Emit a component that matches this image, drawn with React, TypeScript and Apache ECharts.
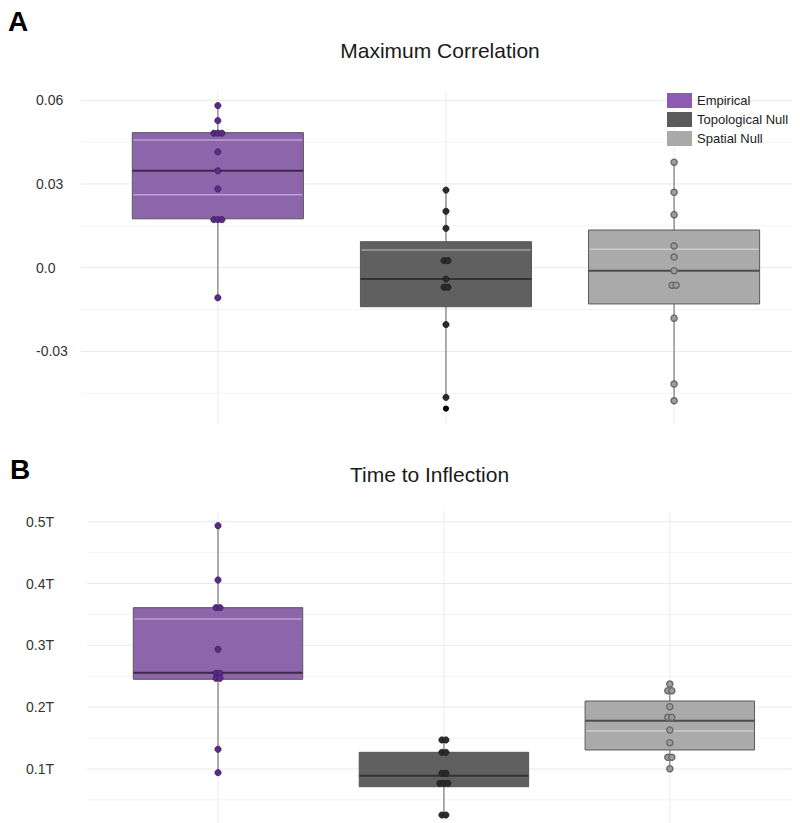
import React, { useEffect, useRef } from 'react';
import * as echarts from 'echarts';

const FONT = 'Liberation Sans, Arial, Helvetica, sans-serif';

const groups = ['Empirical', 'Topological Null', 'Spatial Null'];
const legendColors = ['#8d5cb2', '#5a5a5a', '#a9a9a9'];
const boxFills = ['#8960a7', '#5b5b5b', '#a7a7a7'];
const medianColors = ['#3b2a4c', '#333333', '#4d4d4d'];
const dotFills = ['#5a2a84', '#2b2b2b', '#9c9c9c'];
const dotStrokes = ['#3e1c5e', '#1a1a1a', '#666666'];

// ---- Panel A: Maximum Correlation ----
const corrTicks = [-0.03, 0, 0.03, 0.06];
const corrMinorTicks = [-0.045, -0.015, 0.015, 0.045];
// [low whisker, Q1, median, Q3, high whisker]
const corrBoxEmpirical = [-0.0108, 0.0175, 0.0347, 0.0484, 0.0581];
const corrBoxTopological = [-0.0465, -0.014, -0.0041, 0.0093, 0.0278];
const corrBoxSpatial = [-0.0477, -0.013, -0.0011, 0.0135, 0.0378];
const corrPointsEmpirical = [0.0581, 0.0527, 0.0482, 0.0482, 0.0482, 0.0415, 0.0347, 0.0282, 0.0172, 0.0172, 0.0172, -0.0108];
const corrPointsTopological = [0.0278, 0.0202, 0.0141, 0.0025, 0.0025, -0.0041, -0.007, -0.007, -0.0204, -0.0465];
const corrPointsSpatial = [0.0378, 0.027, 0.019, 0.0078, 0.0038, -0.0011, -0.0063, -0.0063, -0.0181, -0.0417, -0.0477];
const corrOutliersTopological = [-0.0505];
const corrLightEmpirical = [0.0458, 0.0261];
const corrLightTopological = [0.0063];
const corrLightSpatial = [0.0066];

// ---- Panel B: Time to Inflection ----
const timeTicks = [0.1, 0.2, 0.3, 0.4, 0.5];
const timeMinorTicks = [0.05, 0.15, 0.25, 0.35, 0.45];
const timeBoxEmpirical = [0.0941, 0.2451, 0.2558, 0.361, 0.4935];
const timeBoxTopological = [0.0256, 0.0714, 0.0892, 0.127, 0.147];
const timeBoxSpatial = [0.1005, 0.1308, 0.1782, 0.21, 0.2375];
const timePointsEmpirical = [0.4935, 0.4057, 0.361, 0.361, 0.2936, 0.2548, 0.2548, 0.2467, 0.2467, 0.1319, 0.0941];
const timePointsTopological = [0.147, 0.147, 0.127, 0.127, 0.0931, 0.0931, 0.0769, 0.0769, 0.0769, 0.0256, 0.0256];
const timePointsSpatial = [0.2375, 0.2267, 0.2267, 0.2008, 0.1836, 0.1836, 0.163, 0.1426, 0.119, 0.119, 0.1005];
const timeLightEmpirical = [0.3426];
const timeLightTopological: number[] = [];
const timeLightSpatial = [0.1615];

const HALF = 0.375;

function stacked(values: number[], cat: number) {
  const counts = new Map<number, number>();
  values.forEach((v) => counts.set(v, (counts.get(v) || 0) + 1));
  const seen = new Map<number, number>();
  return values.map((v) => {
    const k = seen.get(v) || 0;
    seen.set(v, k + 1);
    return [cat, v, k, counts.get(v) as number];
  });
}

function gridSeries(idx: number, majors: number[], minors: number[]) {
  return [
    {
      type: 'custom',
      xAxisIndex: idx,
      yAxisIndex: idx,
      silent: true,
      z: 0,
      data: minors.map((v) => [1, v]),
      renderItem: (params: any, api: any) => {
        const cs = params.coordSys;
        const y = api.coord([1, api.value(1)])[1];
        return { type: 'line', shape: { x1: cs.x, y1: y, x2: cs.x + cs.width, y2: y }, style: { stroke: '#f3f3f3', lineWidth: 1 } };
      },
    },
    {
      type: 'custom',
      xAxisIndex: idx,
      yAxisIndex: idx,
      silent: true,
      z: 0,
      data: majors.map((v) => [1, v]),
      renderItem: (params: any, api: any) => {
        const cs = params.coordSys;
        const y = api.coord([1, api.value(1)])[1];
        return { type: 'line', shape: { x1: cs.x, y1: y, x2: cs.x + cs.width, y2: y }, style: { stroke: '#e9e9e9', lineWidth: 1 } };
      },
    },
    {
      type: 'custom',
      xAxisIndex: idx,
      yAxisIndex: idx,
      silent: true,
      z: 0,
      data: [[1, 0], [2, 0], [3, 0]],
      renderItem: (params: any, api: any) => {
        const cs = params.coordSys;
        const x = api.coord([api.value(0), api.value(1)])[0];
        return { type: 'line', shape: { x1: x, y1: cs.y, x2: x, y2: cs.y + cs.height }, style: { stroke: '#ececec', lineWidth: 1 } };
      },
    },
  ];
}

function boxSeries(idx: number, g: number, stats: number[], points: number[], light: number[], outliers: number[]) {
  const cat = g + 1;
  const list: any[] = [
    {
      type: 'custom',
      name: groups[g],
      xAxisIndex: idx,
      yAxisIndex: idx,
      z: 2,
      itemStyle: { color: legendColors[g] },
      data: [[cat, ...stats]],
      renderItem: (params: any, api: any) => {
        const c = api.value(0);
        const yLow = api.coord([c, api.value(1)])[1];
        const yQ1 = api.coord([c, api.value(2)])[1];
        const yMed = api.coord([c, api.value(3)])[1];
        const yQ3 = api.coord([c, api.value(4)])[1];
        const yHigh = api.coord([c, api.value(5)])[1];
        const xc = api.coord([c, 0])[0];
        const xl = api.coord([c - HALF, 0])[0];
        const xr = api.coord([c + HALF, 0])[0];
        return {
          type: 'group',
          children: [
            { type: 'line', shape: { x1: xc, y1: yHigh, x2: xc, y2: yQ3 }, style: { stroke: '#7a7a7a', lineWidth: 1.2 } },
            { type: 'line', shape: { x1: xc, y1: yQ1, x2: xc, y2: yLow }, style: { stroke: '#7a7a7a', lineWidth: 1.2 } },
            { type: 'rect', shape: { x: xl, y: yQ3, width: xr - xl, height: yQ1 - yQ3 }, style: { fill: boxFills[g], stroke: '#555555', lineWidth: 1, opacity: 0.97 } },
            { type: 'line', shape: { x1: xl, y1: yMed, x2: xr, y2: yMed }, style: { stroke: medianColors[g], lineWidth: 2 } },
          ],
        };
      },
    },
    {
      type: 'custom',
      xAxisIndex: idx,
      yAxisIndex: idx,
      silent: true,
      z: 3,
      data: light.map((v) => [cat, v]),
      renderItem: (params: any, api: any) => {
        const c = api.value(0);
        const y = api.coord([c, api.value(1)])[1];
        const xl = api.coord([c - HALF, 0])[0];
        const xr = api.coord([c + HALF, 0])[0];
        return { type: 'line', shape: { x1: xl + 1, y1: y, x2: xr - 1, y2: y }, style: { stroke: 'rgba(255,255,255,0.4)', lineWidth: 1.5 } };
      },
    },
    {
      type: 'custom',
      xAxisIndex: idx,
      yAxisIndex: idx,
      z: 4,
      data: stacked(points, cat),
      renderItem: (params: any, api: any) => {
        const p = api.coord([api.value(0), api.value(1)]);
        const k = api.value(2);
        const n = api.value(3);
        return {
          type: 'circle',
          shape: { cx: p[0] + (k - (n - 1) / 2) * 4, cy: p[1], r: 3.1 },
          style: { fill: dotFills[g], stroke: dotStrokes[g], lineWidth: g === 2 ? 1.3 : 0.8 },
        };
      },
    },
  ];
  if (outliers.length) {
    list.push({
      type: 'custom',
      xAxisIndex: idx,
      yAxisIndex: idx,
      z: 4,
      data: outliers.map((v) => [cat, v]),
      renderItem: (params: any, api: any) => {
        const p = api.coord([api.value(0), api.value(1)]);
        return { type: 'circle', shape: { cx: p[0], cy: p[1], r: 3.1 }, style: { fill: '#000000' } };
      },
    });
  }
  return list;
}

export default function App() {
  const ref = useRef<HTMLDivElement>(null);
  useEffect(() => {
    document.body.style.margin = '0';
    const chart = echarts.init(ref.current as HTMLDivElement, null, { renderer: 'svg' });
    const option: any = {
      animation: false,
      backgroundColor: '#ffffff',
      textStyle: { fontFamily: FONT },
      grid: [
        { left: 81, top: 90.5, width: 711.7, height: 334.8 },
        { left: 87, top: 511, width: 704.8, height: 312 },
      ],
      xAxis: [
        { type: 'value', gridIndex: 0, min: 0.4, max: 3.52, show: false },
        { type: 'value', gridIndex: 1, min: 0.42, max: 3.54, show: false },
      ],
      yAxis: [
        {
          type: 'value',
          gridIndex: 0,
          min: -0.0565,
          max: 0.0635,
          axisLine: { show: false },
          axisTick: { show: false, customValues: corrTicks },
          splitLine: { show: false },
          axisLabel: {
            customValues: corrTicks,
            align: 'left',
            margin: 45,
            fontSize: 14,
            color: '#333333',
            fontFamily: FONT,
            formatter: (v: number) => (Math.abs(v) < 1e-9 ? '0.0' : v.toFixed(2)),
          },
        },
        {
          type: 'value',
          gridIndex: 1,
          min: 0.0127,
          max: 0.5173,
          axisLine: { show: false },
          axisTick: { show: false, customValues: timeTicks },
          splitLine: { show: false },
          axisLabel: {
            customValues: timeTicks,
            align: 'left',
            margin: 61,
            fontSize: 14,
            color: '#333333',
            fontFamily: FONT,
            formatter: (v: number) => v.toFixed(1) + 'T',
          },
        },
      ],
      legend: {
        orient: 'vertical',
        left: 662,
        top: 88,
        itemWidth: 25,
        itemHeight: 15,
        itemGap: 4,
        icon: 'rect',
        selectedMode: false,
        textStyle: { fontSize: 13, color: '#222222', fontFamily: FONT },
        data: groups.map((g, i) => ({ name: g, itemStyle: { color: legendColors[i], borderWidth: 0 } })),
      },
      graphic: [
        { type: 'text', x: 8, y: 21.7, style: { text: 'A', font: `bold 28px ${FONT}`, fill: '#000', textVerticalAlign: 'middle' } },
        { type: 'text', x: 10, y: 469, style: { text: 'B', font: `bold 28px ${FONT}`, fill: '#000', textVerticalAlign: 'middle' } },
        { type: 'text', x: 440, y: 50, style: { text: 'Maximum Correlation', font: `21px ${FONT}`, fill: '#1a1a1a', textAlign: 'center', textVerticalAlign: 'middle' } },
        { type: 'text', x: 429.5, y: 474, style: { text: 'Time to Inflection', font: `21px ${FONT}`, fill: '#1a1a1a', textAlign: 'center', textVerticalAlign: 'middle' } },
      ],
      series: [
        ...gridSeries(0, corrTicks, corrMinorTicks),
        ...gridSeries(1, timeTicks, timeMinorTicks),
        ...boxSeries(0, 0, corrBoxEmpirical, corrPointsEmpirical, corrLightEmpirical, []),
        ...boxSeries(0, 1, corrBoxTopological, corrPointsTopological, corrLightTopological, corrOutliersTopological),
        ...boxSeries(0, 2, corrBoxSpatial, corrPointsSpatial, corrLightSpatial, []),
        ...boxSeries(1, 0, timeBoxEmpirical, timePointsEmpirical, timeLightEmpirical, []),
        ...boxSeries(1, 1, timeBoxTopological, timePointsTopological, timeLightTopological, []),
        ...boxSeries(1, 2, timeBoxSpatial, timePointsSpatial, timeLightSpatial, []),
      ],
    };
    chart.setOption(option);
    return () => chart.dispose();
  }, []);
  return <div ref={ref} style={{ width: 800, height: 823 }} />;
}
